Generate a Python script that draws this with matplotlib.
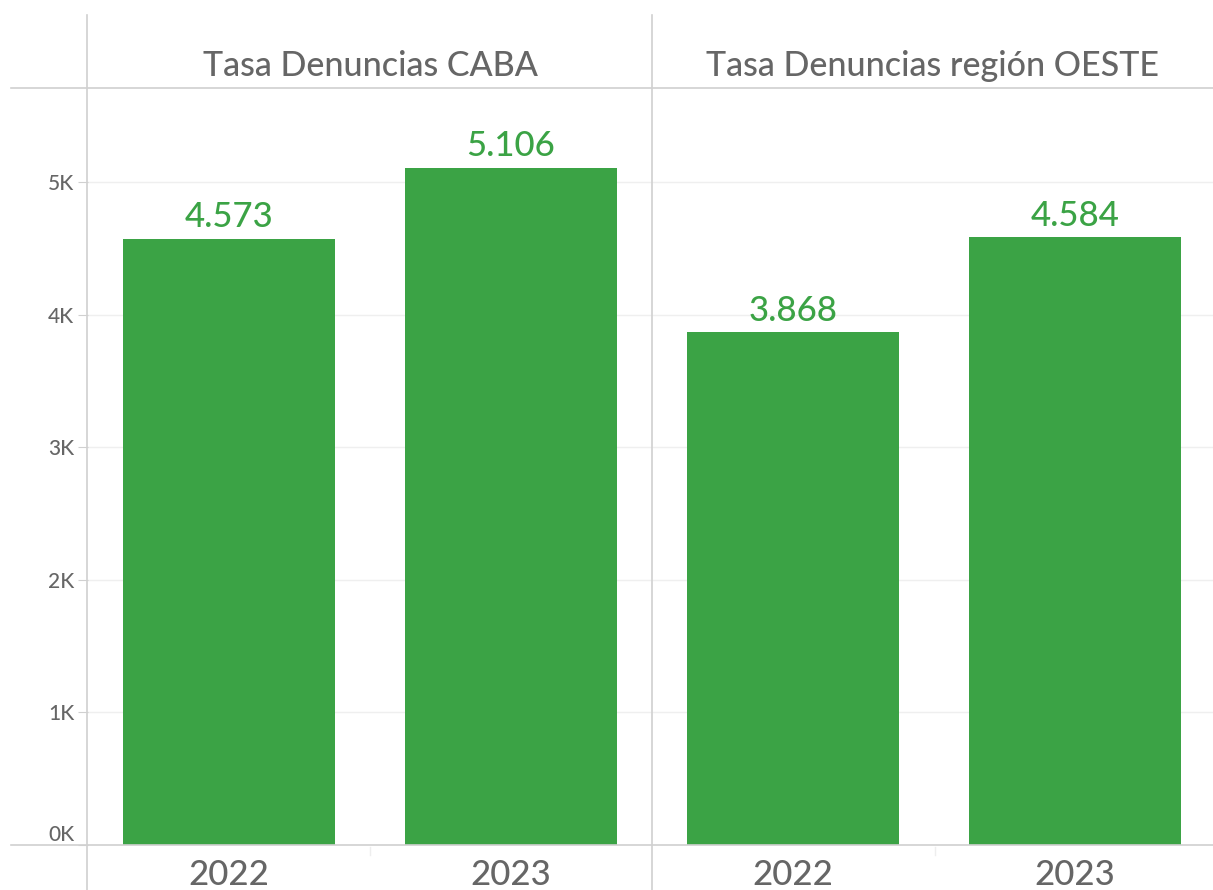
import matplotlib.pyplot as plt
from matplotlib.lines import Line2D

plt.rcParams['font.family'] = ['Lato', 'DejaVu Sans']
plt.rcParams['font.weight'] = 'medium'

panels = ['Tasa Denuncias CABA', 'Tasa Denuncias región OESTE']
years = ['2022', '2023']
caba = [4573, 5106]
oeste = [3868, 4584]
yticks = [0, 1000, 2000, 3000, 4000, 5000]
ytick_labels = ['0K', '1K', '2K', '3K', '4K', '5K']

green = '#3ba345'
grey_text = '#666666'
line_col = '#d0d0d0'

W, H = 1213, 890
fig = plt.figure(figsize=(W / 100, H / 100), dpi=100)


def fx(px):
    return px / W


def fy(py):
    return 1 - py / H


y_top, y_bot = 88, 845
ymax = (y_bot - y_top) / 132.6 * 1000
edges = [88, 652, 1216]

for i, (title, vals) in enumerate(zip(panels, [caba, oeste])):
    x0, x1 = edges[i], edges[i + 1]
    ax = fig.add_axes([fx(x0), fy(y_bot), fx(x1 - x0), (y_bot - y_top) / H])
    ax.bar(range(len(years)), vals, width=0.75, color=green, zorder=2)
    ax.set_xlim(-0.5, 1.5)
    ax.set_ylim(0, ymax)
    ax.set_yticks(yticks)
    ax.grid(axis='y', color='#efefef', linewidth=1, zorder=0)
    for s in ax.spines.values():
        s.set_visible(False)
    ax.set_xticks(range(len(years)))
    ax.set_xticklabels(years, fontsize=25, color=grey_text)
    ax.tick_params(axis='x', length=0, pad=10)
    if i == 0:
        ax.set_yticklabels(ytick_labels, fontsize=15, color=grey_text)
        ax.tick_params(axis='y', length=7, color=line_col, pad=3)
        # Tableau lifts the zero label above the axis line
        ax.get_yticklabels()[0].set_va('bottom')
    else:
        ax.tick_params(axis='y', length=0, labelleft=False)
    for j, v in enumerate(vals):
        ax.annotate(f'{v:,}'.replace(',', '.'), (j, v), xytext=(0, 4),
                    textcoords='offset points', ha='center', va='bottom',
                    fontsize=25, color=green)
    fig.text(fx((x0 + min(x1, W)) / 2), fy(66), title, ha='center', va='center',
             fontsize=24.5, color=grey_text)

# frame lines of the table layout
for x in [87, 652]:
    fig.add_artist(Line2D([fx(x), fx(x)], [fy(15), 0], color=line_col, lw=1.2))
for y in [88, 845]:
    fig.add_artist(Line2D([fx(11), 1], [fy(y), fy(y)], color=line_col, lw=1.2))
for x in [370, 935]:
    fig.add_artist(Line2D([fx(x), fx(x)], [fy(847), fy(855)], color='#eeeeee', lw=1))

fig.savefig('out.png', dpi=100)
